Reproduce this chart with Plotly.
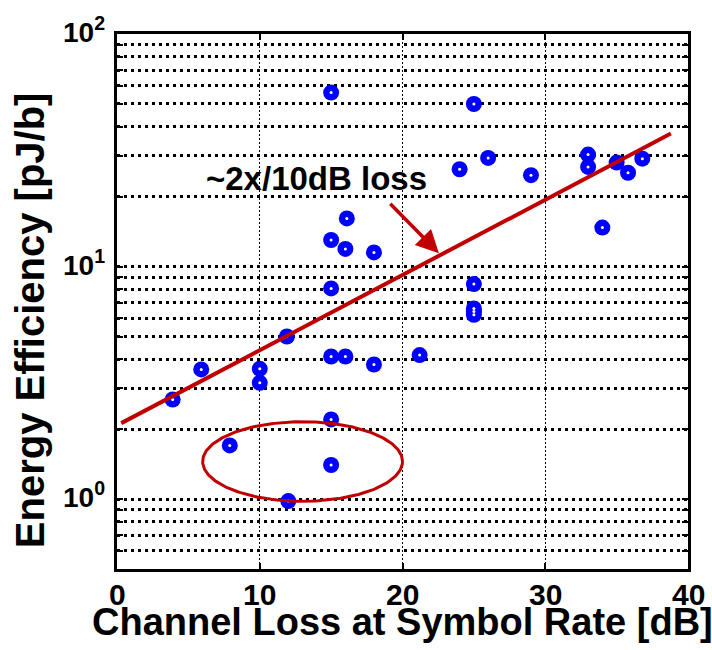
import numpy as np
import plotly.graph_objects as go

# Measured designs: channel loss at symbol rate [dB] vs energy efficiency [pJ/b]
loss_db = [15, 25, 24, 26, 29, 33, 33, 35, 35.8, 36.8, 34, 18, 25, 25, 25, 25,
           16.1, 15, 16, 15, 11.9, 15, 16, 5.9, 10, 10, 3.9, 15, 7.9, 15, 12,
           18, 21.2]
energy_pj = [56, 50, 26.2, 29.3, 24.7, 30.3, 26.8, 28.0, 25.3, 29.1, 14.7, 11.5,
             8.4, 6.6, 6.4, 6.2, 16.1, 13.0, 11.9, 8.05, 5.0, 4.1, 4.1, 3.61,
             3.63, 3.16, 2.68, 2.2, 1.7, 1.4, 0.98, 3.79, 4.16]

# Trend line endpoints (~2x per 10 dB)
trend_x = [0.3, 38.8]
trend_y = [2.12, 37.3]

# Highlight ellipse: centre (dB, pJ/b), half-width in dB, half-height in decades
ell_cx, ell_cy = 13.0, 1.45
ell_rx, ell_ry_dec = 7.0, 0.171

# Annotation arrow: tail and head (dB, pJ/b)
arrow_tail = (19.04, 18.9)
arrow_head = (22.55, 11.41)
label_pos = (14.0, 24.0)
label_text = "~2x/10dB loss"

# Axis ticks
x_ticks = [0, 10, 20, 30, 40]
x_tick_text = ["0", "10", "20", "30", "40"]
y_major = [1, 10, 100]
y_major_text = ["10<sup>0</sup>", "10<sup>1</sup>", "10<sup>2</sup>"]

RED = "#C00000"
BLUE = "#0000FF"
FONT = "Liberation Sans, Arial, sans-serif"

# Log-axis tick positions: every 1..9 multiple of each decade within range
y_tickvals = []
for dec in [0.1, 1, 10]:
    for m in range(1, 10):
        v = round(m * dec, 6)
        if 0.6 <= v <= 100:
            y_tickvals.append(v)
y_tickvals.append(100)

fig = go.Figure()

# Ring markers: solid blue disc with a small white centre dot
fig.add_trace(go.Scatter(
    x=loss_db, y=energy_pj, mode="markers",
    marker=dict(symbol="circle", size=16, color=BLUE, line=dict(width=0)),
    showlegend=False, hoverinfo="x+y",
))
fig.add_trace(go.Scatter(
    x=loss_db, y=energy_pj, mode="markers",
    marker=dict(symbol="circle", size=3, color="white", line=dict(width=0)),
    showlegend=False, hoverinfo="skip",
))

fig.add_trace(go.Scatter(
    x=trend_x, y=trend_y, mode="lines",
    line=dict(color=RED, width=4), showlegend=False,
))

t = np.linspace(0, 2 * np.pi, 241)
ell_x = ell_cx + ell_rx * np.cos(t)
ell_y = 10 ** (np.log10(ell_cy) + ell_ry_dec * np.sin(t))
fig.add_trace(go.Scatter(
    x=ell_x, y=ell_y, mode="lines",
    line=dict(color=RED, width=3), showlegend=False, hoverinfo="skip",
))

fig.add_annotation(
    x=arrow_head[0], y=np.log10(arrow_head[1]),
    ax=arrow_tail[0], ay=np.log10(arrow_tail[1]),
    xref="x", yref="y", axref="x", ayref="y",
    text="", showarrow=True, arrowhead=2, arrowsize=1.3,
    arrowwidth=3.5, arrowcolor=RED, standoff=0, startstandoff=0,
)

fig.add_annotation(
    x=label_pos[0], y=np.log10(label_pos[1]), xref="x", yref="y",
    text="<b>" + label_text + "</b>", showarrow=False,
    font=dict(family=FONT, size=33, color="black"),
)

# Tick labels placed on the axes' own coordinates
for v, s in zip(x_ticks, x_tick_text):
    fig.add_annotation(
        x=v, y=0, xref="x", yref="paper", yanchor="middle", yshift=-25,
        text="<b>%s</b>" % s, showarrow=False,
        font=dict(family=FONT, size=30, color="black"),
    )
for v, s in zip(y_major, y_major_text):
    fig.add_annotation(
        x=0, y=np.log10(v), xref="paper", yref="y", xanchor="right",
        yanchor="middle", xshift=-10, yshift=4,
        text="<b>%s</b>" % s, showarrow=False,
        font=dict(family=FONT, size=28, color="black"),
    )

# Axis titles
fig.add_annotation(
    x=0.5, y=0, xref="paper", yref="paper", yanchor="middle", yshift=-53,
    text="<b>Channel Loss at Symbol Rate [dB]</b>", showarrow=False,
    font=dict(family=FONT, size=38, color="black"),
)
fig.add_annotation(
    x=0, y=0.465, xref="paper", yref="paper", xanchor="center", xshift=-87,
    text="<b>Energy Efficiency [pJ/b]</b>", showarrow=False, textangle=-90,
    font=dict(family=FONT, size=40, color="black"),
)

fig.update_layout(
    xaxis=dict(
        range=[0, 40], tickmode="array", tickvals=x_ticks, showticklabels=False,
        showline=True, linecolor="black", linewidth=3, mirror="ticks",
        ticks="inside", ticklen=6, tickwidth=2, tickcolor="black",
        showgrid=True, gridcolor="black", gridwidth=1.2, griddash="2px,2px",
        zeroline=False, automargin=False,
    ),
    yaxis=dict(
        type="log", range=[np.log10(0.5), 2], tickmode="array",
        tickvals=y_tickvals, showticklabels=False,
        showline=True, linecolor="black", linewidth=3, mirror="ticks",
        ticks="inside", ticklen=6, tickwidth=2, tickcolor="black",
        showgrid=True, gridcolor="black", gridwidth=2.5, griddash="3px,4px",
        zeroline=False, automargin=False,
    ),
    font=dict(family=FONT, size=30, color="black"),
    width=712, height=650,
    margin=dict(l=117, r=24, t=34, b=81),
    plot_bgcolor="white", paper_bgcolor="white",
    showlegend=False,
)

fig.write_html("out.html")
